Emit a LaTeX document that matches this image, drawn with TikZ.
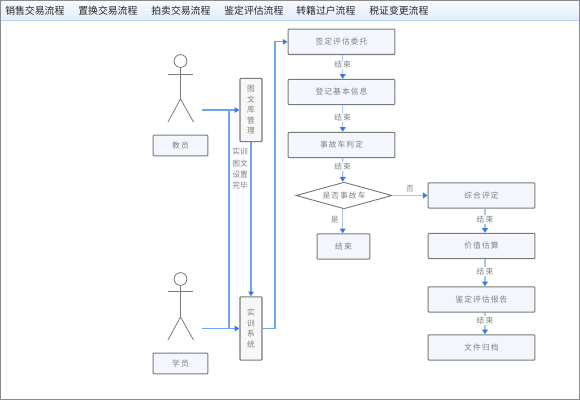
\documentclass[tikz,border=0pt]{standalone}
\usepackage{fontspec}
\usepackage{xcolor}
\usetikzlibrary{arrows.meta,shapes.geometric}
\setmainfont{Noto Sans CJK SC}
\newfontfamily\spacedcjk[LetterSpace=14]{Noto Sans CJK SC}
\definecolor{flowblue}{HTML}{6CA4EE}
\definecolor{paleblue}{HTML}{A3C6F2}
\definecolor{tipblue}{HTML}{3A7DD6}
\definecolor{edgegray}{HTML}{7A7A7A}
\definecolor{framegray}{HTML}{8C8C8C}
\definecolor{boxfill}{HTML}{F3F6FC}
\definecolor{textgray}{HTML}{808080}
\definecolor{bartop}{HTML}{F6FAFE}
\definecolor{barbottom}{HTML}{E3EDF9}
\definecolor{barline}{HTML}{B9D5F6}

\begin{document}
\begin{tikzpicture}[
    x=0.75pt, y=-0.75pt,
    tabitem/.style={anchor=west, inner sep=0pt, font=\fontsize{7.4pt}{9pt}\selectfont, text=black!85},
    flowbox/.style={rectangle, rounded corners=0.6pt, draw=edgegray, line width=0.8pt, fill=boxfill, minimum width=80pt, minimum height=19pt, inner sep=0pt, font=\spacedcjk\fontsize{5.8pt}{7pt}\selectfont, text=textgray},
    endbox/.style={flowbox, minimum width=39.5pt},
    rolebox/.style={flowbox, minimum width=41pt, minimum height=15.5pt},
    sysbox/.style={flowbox, fill=black!3, minimum width=16.5pt, align=center, font=\fontsize{5.8pt}{7.9pt}\selectfont},
    decision/.style={diamond, aspect=3.55, draw=edgegray, line width=0.7pt, fill=white, inner sep=0pt, minimum width=72pt, minimum height=20pt, font=\spacedcjk\fontsize{5.8pt}{7pt}\selectfont, text=textgray},
    flow/.style={draw=flowblue, line width=1pt, -{Triangle[length=3.6pt,width=4pt,color=tipblue]}},
    stepflow/.style={draw=paleblue, line width=1.1pt, -{Triangle[length=3.6pt,width=4.4pt,color=tipblue]}},
    plainflow/.style={draw=flowblue, line width=1pt},
    tag/.style={fill=white, inner sep=0.6pt, font=\spacedcjk\fontsize{5.8pt}{7pt}\selectfont, text=textgray},
    actorline/.style={draw=edgegray, line width=0.6pt}
]
  \useasboundingbox (0,0) rectangle (580,400);

  % Frame and tab bar
  \path[top color=bartop, bottom color=barbottom] (1,1) rectangle (579,20);
  \draw[barline, line width=0.7pt] (1,20.5) -- (579,20.5);
  \draw[framegray, line width=1.2pt] (0.6,0.6) rectangle (579.4,399.4);
  \node[tabitem] (tab1) at (5,11) {销售交易流程};
  \node[tabitem] (tab2) at (78,11) {置换交易流程};
  \node[tabitem] (tab3) at (151,11) {拍卖交易流程};
  \node[tabitem] (tab4) at (224,11) {鉴定评估流程};
  \node[tabitem] (tab5) at (296,11) {转籍过户流程};
  \node[tabitem] (tab6) at (369,11) {税证变更流程};

  % Actors
  \foreach \hy/\ay/\wy/\fy in {61/74/99/122, 279/291/317/340} {
    \draw[actorline] (180.5,\hy) circle (6.4);
    \draw[actorline] (180.5,\hy+6.4) -- (180.5,\wy);
    \draw[actorline] (168,\ay) -- (193,\ay);
    \draw[actorline] (168,\fy) -- (180.5,\wy) -- (193.5,\fy);
  }
  \node[rolebox] (teacher) at (180.5,145.5) {教员};
  \node[rolebox] (student) at (180.5,363.5) {学员};

  % Systems
  \node[sysbox, minimum height=47.5pt] (library) at (251,110) {图\\文\\库\\管\\理};
  \node[sysbox, minimum height=47.5pt] (system) at (251,328.5) {实\\训\\系\\统};

  % Left column
  \node[flowbox] (entrust) at (341.5,41.8) {签定评估委托};
  \node[flowbox] (register) at (341.5,92) {登记基本信息};
  \node[flowbox] (accident) at (341.5,145) {事故车判定};
  \node[decision] (isaccident) at (344,195.5) {是否事故车};
  \node[endbox] (finish) at (343.5,246.5) {结束};

  % Right column
  \node[flowbox] (assess) at (481.5,195.5) {综合评定};
  \node[flowbox] (value) at (481.5,246) {价值估算};
  \node[flowbox] (report) at (481.5,299.5) {鉴定评估报告};
  \node[flowbox] (archive) at (481.5,347.5) {文件归档};

  % Free ends
  \coordinate (teacherout) at (202,110);
  \coordinate (studentout) at (202,328.5);
  \coordinate (teacherjoin) at (229,110);
  \coordinate (studentjoin) at (229,328.5);
  \coordinate (riser) at (275,200);

  % Actor edges
  \draw[flow] (teacherout) -- (library);
  \draw[flow] (studentout) -- (system);
  \draw[plainflow] (teacherjoin) -- (studentjoin);
  \draw[flow] (library) -- (system);
  \draw[flow] (system.east) -| (riser) |- (entrust.west);

  % Column edges
  \draw[stepflow] ([xshift=0.9pt]entrust.south) -- ([xshift=0.9pt]register.north) node[tag, pos=0.42] {结束};
  \draw[stepflow] ([xshift=0.9pt]register.south) -- ([xshift=0.9pt]accident.north) node[tag, pos=0.45] {结束};
  \draw[stepflow] ([xshift=0.9pt]accident.south) -- ([xshift=-1pt]isaccident.north) node[tag, pos=0.36] {结束};
  \draw[stepflow] ([xshift=-1pt]isaccident.south) -- ([xshift=-1pt]isaccident.south |- finish.north) node[tag, pos=0.42, xshift=-6pt, fill=none] {是};
  \draw[stepflow] (isaccident) -- (assess) node[tag, pos=0.5, yshift=5pt, fill=none] {否};
  \draw[stepflow] ([xshift=2.6pt]assess.south) -- ([xshift=2.6pt]value.north) node[tag, pos=0.45] {结束};
  \draw[stepflow] ([xshift=2.6pt]value.south) -- ([xshift=2.6pt]report.north) node[tag, pos=0.45] {结束};
  \draw[stepflow] ([xshift=2.6pt]report.south) -- ([xshift=2.6pt]archive.north) node[tag, pos=0.36] {结束};

  % Side note
  \node[inner sep=0pt, align=center, font=\fontsize{5.8pt}{8.5pt}\selectfont, text=textgray] (note) at (240,169) {实训\\图文\\设置\\完毕};
\end{tikzpicture}
\end{document}
